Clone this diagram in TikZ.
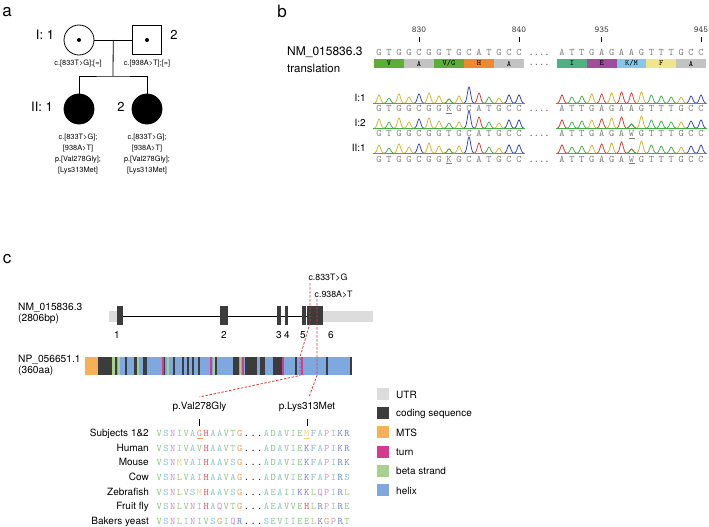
\documentclass[tikz,border=0pt]{standalone}
\usepackage{fontspec}
\setmainfont{TeX Gyre Heros}
\usepackage{xcolor}
\definecolor{figutr}{HTML}{DCDCDC}
\definecolor{figcds}{HTML}{3C3C3C}
\definecolor{figmts}{HTML}{F6B158}
\definecolor{figturn}{HTML}{D93A8F}
\definecolor{figbeta}{HTML}{A9D18E}
\definecolor{fighelix}{HTML}{7FA8DF}
\definecolor{figmut}{HTML}{E23A32}
\definecolor{figseq}{HTML}{7A7A7A}
% trace colours
\definecolor{baseA}{HTML}{D63A33}
\definecolor{baseC}{HTML}{3046B5}
\definecolor{baseG}{HTML}{CDB52C}
\definecolor{baseT}{HTML}{3DAF45}
% translation colours
\definecolor{trV}{HTML}{5DAE37}
\definecolor{trA}{HTML}{C3C3C3}
\definecolor{trH}{HTML}{F0892E}
\definecolor{trI}{HTML}{4DB383}
\definecolor{trE}{HTML}{A24C9E}
\definecolor{trK}{HTML}{82C9EC}
\definecolor{trF}{HTML}{F1E58C}
% residue colours
\definecolor{aaA}{HTML}{8CC4C4}
\definecolor{aaV}{HTML}{8CC47E}
\definecolor{aaS}{HTML}{7DC4DE}
\definecolor{aaN}{HTML}{C58BC9}
\definecolor{aaI}{HTML}{8FCBA0}
\definecolor{aaT}{HTML}{96C77E}
\definecolor{aaG}{HTML}{EE9750}
\definecolor{aaH}{HTML}{DD4F63}
\definecolor{aaD}{HTML}{82BF7C}
\definecolor{aaE}{HTML}{8BC38B}
\definecolor{aaK}{HTML}{7573C4}
\definecolor{aaF}{HTML}{87A9E0}
\definecolor{aaP}{HTML}{D694BF}
\definecolor{aaR}{HTML}{6885D4}
\definecolor{aaM}{HTML}{F1D36A}
\definecolor{aaL}{HTML}{A3C87A}
\definecolor{aaQ}{HTML}{CF8FD0}
\usepackage{tikz}
\usetikzlibrary{positioning,calc}
\tikzset{
  figpanel/.style={inner sep=0pt,font=\fontsize{17}{17}\selectfont},
  pedfemale/.style={draw,circle,line width=0.8pt,minimum size=30pt,inner sep=0pt},
  pedmale/.style={draw,line width=0.8pt,minimum size=29pt,inner sep=0pt},
  pedaffected/.style={pedfemale,fill=black},
  pedline/.style={line width=0.8pt},
  pedid/.style={inner sep=0pt,font=\fontsize{13}{13}\selectfont},
  pedgeno/.style={inner sep=0pt,align=center,font=\fontsize{7.4}{11}\selectfont},
  seqname/.style={inner sep=0pt,anchor=west,align=left},
  seqchar/.style={inner sep=0pt,anchor=base,text=figseq,font=\ttfamily\fontsize{10}{10}\selectfont},
  seqpos/.style={inner sep=0pt,font=\ttfamily\fontsize{9}{9}\selectfont,text=black!80},
  trbox/.style={minimum width=30pt,minimum height=9pt,inner sep=0pt,font=\ttfamily\fontsize{8}{8}\selectfont},
  tracepeak/.style={line width=0.75pt},
  tracename/.style={inner sep=0pt,anchor=east,font=\fontsize{10}{10}\selectfont},
  exonnum/.style={inner sep=0pt,font=\fontsize{10}{10}\selectfont},
  mutlabel/.style={inner sep=0pt,font=\fontsize{8.8}{9}\selectfont},
  mutline/.style={figmut,line width=0.8pt,dash pattern=on 2.5pt off 1.5pt},
  legtext/.style={inner sep=0pt,anchor=west,font=\fontsize{10}{10}\selectfont},
  alnname/.style={inner sep=0pt,anchor=base east,font=\fontsize{10}{10}\selectfont},
  alnres/.style={inner sep=0pt,anchor=base,font=\ttfamily\fontsize{10}{10}\selectfont},
}
\newcommand{\peak}[4]{% centre x, baseline, height, colour
  \draw[tracepeak,#4] plot[variable=\t,domain=-4.6:4.6,samples=15,smooth]
    ({#1+\t},{#2-#3*exp(-\t*\t/5)});}
\newcommand{\chrom}[4]{% first x, pitch, baseline, base/height list
  \draw[tracepeak,baseT] ({#1-6},#3) -- ({#1+#2*14+6},#3);
  \foreach \nb/\nh [count=\n from 0] in {#4}
    \peak{#1+#2*\n}{#3}{\nh}{base\nb};}
\newcommand{\seqrow}[4]{% first x, pitch, baseline, letters
  \foreach \res [count=\n from 0] in {#4}
    \node[seqchar] at ({#1+#2*\n},#3) {\res};
  \node[seqchar] at (539,#3) {....};}
\newcommand{\alnrow}[4]{% baseline, species, residues before and after the gap
  \node[alnname] at (149,#1) {#2};
  \foreach \res [count=\n from 0] in {#3}
    \node[alnres,text=aa\res] at ({159.35+6.7*\n},#1) {\res};
  \foreach \n in {13,14,15}
    \node[alnres] at ({159.35+6.7*\n},#1) {.};
  \foreach \res [count=\n from 16] in {#4}
    \node[alnres,text=aa\res] at ({159.35+6.7*\n},#1) {\res};}
\newcommand{\vg}{V/G}
\newcommand{\km}{K/M}

\begin{document}
\begin{tikzpicture}[x=1pt,y=-1pt]
\useasboundingbox (0,0) rectangle (709,527);
% panel a: pedigree
\node[figpanel] (pa) at (7,12) {a};
\node[pedfemale] (i1) at (79,40) {};
\node[pedmale] (i2) at (147,40) {};
\fill (i1.center) circle (2pt);
\fill (i2.center) circle (2pt);
\node[pedid] (i1id) at (45,35) {I: 1};
\node[pedid] (i2id) at (174,35) {2};
\node[pedaffected] (ii1) at (79,109) {};
\node[pedaffected] (ii2) at (147,109) {};
\node[pedid] (ii1id) at (42,107) {II: 1};
\node[pedid] (ii2id) at (121,107) {2};
\coordinate (mate) at ($(i1.east)!0.5!(i2.west)$);
\coordinate (sibs) at (113,76);
\draw[pedline] (i1.east) -- (i2.west);
\draw[pedline] (mate) -- (sibs);
\draw[pedline] (ii1.north) |- (sibs) -| (ii2.north);
\node[pedgeno] (g1) at (78,64) {c.[833T>G];[=]};
\node[pedgeno] (g2) at (147,64) {c.[938A>T];[=]};
\node[pedgeno] (g3) at (78,154) {c.[833T>G];\\ {[938A>T]}\\ p.[Val278Gly];\\ {[Lys313Met]}};
\node[pedgeno] (g4) at (147,154) {c.[833T>G];\\ {[938A>T]}\\ p.[Val278Gly];\\ {[Lys313Met]}};

% panel b: sequencing
\node[figpanel] (pb) at (282,11) {b};
\foreach \x/\num in {419/830,519/840,601.7/935,701/945}{
  \node[seqpos] at (\x,30) {\num};
  \draw[line width=0.8pt] (\x,37.5) -- (\x,42.5);
}
\node[seqname,font=\fontsize{12}{12}\selectfont] (refname) at (287,52) {NM\_015836.3};
\node[seqname,font=\fontsize{11.5}{12}\selectfont] (trname) at (287,68.5) {translation};
\seqrow{379}{10}{55.5}{G,T,G,G,C,G,G,T,G,C,A,T,G,C,C}
\seqrow{562}{9.93}{55.5}{A,T,T,G,A,G,A,A,G,T,T,T,G,C,C}
\foreach \lbl/\col [count=\n from 0] in {V/trV,A/trA,\vg/trV,H/trH,A/trA}
  \node[trbox,fill=\col] (tra\n) at ({389+30*\n},63.5) {\lbl};
\foreach \lbl/\col [count=\n from 0] in {I/trI,E/trE,\km/trK,F/trF,A/trA}
  \node[trbox,fill=\col] (trb\n) at ({571.9+29.8*\n},63.5) {\lbl};
\node[seqchar,text=black!70] (trgap) at (539,66) {....};

\node[tracename] (t1) at (366,98) {I:1};
\chrom{379}{10}{103}{G/8,T/5,G/9,G/6,C/9,G/10,G/7,G/4,G/7,C/16,A/10,T/6,G/5,C/8,C/8}
\peak{449}{103}{4}{baseT}
\chrom{562}{9.93}{103}{A/8,T/6,T/7,G/9,A/9,G/10,A/11,A/10,G/11,T/8,T/7,T/6,G/6,C/7,C/8}
\seqrow{379}{10}{111.5}{G,T,G,G,C,G,G,K,G,C,A,T,G,C,C}
\seqrow{562}{9.93}{111.5}{A,T,T,G,A,G,A,A,G,T,T,T,G,C,C}
\draw[figseq] (446,113) -- (452,113);

\node[tracename] (t2) at (366,123) {I:2};
\chrom{379}{10}{128}{G/9,T/6,G/10,G/6,C/9,G/10,G/7,T/5,G/6,C/17,A/11,T/6,G/5,C/8,C/8}
\chrom{562}{9.93}{128}{A/8,T/6,T/7,G/8,A/9,G/10,A/11,A/4,G/12,T/8,T/7,T/6,G/6,C/7,C/8}
\peak{631.5}{128}{4}{baseT}
\seqrow{379}{10}{136.5}{G,T,G,G,C,G,G,T,G,C,A,T,G,C,C}
\seqrow{562}{9.93}{136.5}{A,T,T,G,A,G,A,W,G,T,T,T,G,C,C}
\draw[figseq] (628.5,138) -- (634.5,138);

\node[tracename] (t3) at (366,148) {II:1};
\chrom{379}{10}{153}{G/8,T/5,G/9,G/6,C/9,G/10,G/7,G/4,G/7,C/16,A/10,T/6,G/5,C/8,C/8}
\peak{449}{153}{4}{baseT}
\chrom{562}{9.93}{153}{A/8,T/6,T/7,G/8,A/9,G/10,A/11,A/4,G/12,T/8,T/7,T/6,G/6,C/7,C/8}
\peak{631.5}{153}{4}{baseT}
\seqrow{379}{10}{162}{G,T,G,G,C,G,G,K,G,C,A,T,G,C,C}
\seqrow{562}{9.93}{162}{A,T,T,G,A,G,A,W,G,T,T,T,G,C,C}
\draw[figseq] (446,163.5) -- (452,163.5);
\draw[figseq] (628.5,163.5) -- (634.5,163.5);

% panel c: gene, protein and conservation
\node[figpanel] (pc) at (7,259) {c};
\node[seqname,font=\fontsize{10.2}{11}\selectfont] (nmname) at (18,313.5) {NM\_015836.3\\(2806bp)};
\fill[figutr] (109,311) rectangle (117,322);
\fill[figutr] (323,311) rectangle (373,322);
\draw[line width=1.2pt] (117,316.5) -- (307,316.5);
\foreach \xa/\xb in {117/123,220/228,277/281,285/288,302/306,307/323}
  \fill[figcds] (\xa,306) rectangle (\xb,325);
\foreach \x/\num in {117/1,224/2,279/3,287/4,303/5,331/6}
  \node[exonnum] (ex\num) at (\x,335) {\num};

\node[seqname,font=\fontsize{10.2}{11}\selectfont] (npname) at (18,365.5) {NP\_056651.1\\(360aa)};
\fill[figmts] (85,357) rectangle (98,375);
\fill[fighelix] (98,357) rectangle (352,375);
\foreach \xa/\xb in {98/112,115/117,125/126.5,134/137,143/147,163.5/165,173/174.5,182/183.5,187/188.5,192/193.5,198/200,215/217,233/239,245/257,260/265,273/282,295/297,326/328,350/351.5}
  \fill[figcds] (\xa,357) rectangle (\xb,375);
\foreach \xa/\xb in {112/114.5,117.5/119.5,137/139,167/168.5,213/214.5,239.5/241}
  \fill[figbeta] (\xa,357) rectangle (\xb,375);
\foreach \xa/\xb in {162/163.5,210/212,242/244,282/283.5,300.5/302.5}
  \fill[figturn] (\xa,357) rectangle (\xb,375);

% variant positions
\node[mutlabel] (mut833) at (328,277.5) {c.833T>G};
\node[mutlabel,anchor=west] (mut938) at (314.5,294.5) {c.938A>T};
\node[alnname,anchor=center] (lblval) at (199.5,407) {p.Val278Gly};
\node[alnname,anchor=center] (lbllys) at (307,407) {p.Lys313Met};
\coordinate (m1a) at (310,283);
\coordinate (m1b) at (310,323);
\coordinate (m1c) at (300,357);
\coordinate (m1d) at (300,375.5);
\coordinate (m2a) at (317,299);
\coordinate (m2b) at (317,375.5);
\draw[mutline] (m1a) -- (m1b) -- (m1c) -- (m1d) -- ($(lblval.north)+(0,-5)$);
\draw[mutline] (m2a) -- (m2b) -- ($(lbllys.north)+(2,-5)$);
\draw[line width=0.8pt] (199.5,419) -- (199.5,426);
\draw[line width=0.8pt] (307,419) -- (307,426);

% legend
\foreach \col/\txt [count=\n from 0] in {figutr/UTR,figcds/coding sequence,figmts/MTS,figturn/turn,figbeta/beta strand,fighelix/helix}{
  \fill[\col] (377,{388+19.2*\n}) rectangle ++(12,12);
  \node[legtext] (leg\n) at (396,{394.5+19.2*\n}) {\txt};
}

% alignment
\alnrow{436.5}{Subjects 1\&2}{V,S,N,I,V,A,G,H,A,A,V,T,G}{A,D,A,V,I,E,M,F,A,P,I,K,R}
\draw[aaG,line width=0.7pt] (196.5,438.3) -- (202.5,438.3);
\draw[aaM,line width=0.7pt] (304,438.3) -- (310,438.3);
\alnrow{451.2}{Human}{V,S,N,I,V,A,V,H,A,A,V,T,G}{A,D,A,V,I,E,K,F,A,P,I,K,R}
\alnrow{465.8}{Mouse}{V,S,N,M,V,A,I,H,A,A,V,S,G}{A,D,A,V,I,E,K,F,A,P,I,R,K}
\alnrow{480.5}{Cow}{V,S,N,L,V,A,I,H,A,A,V,A,G}{A,D,A,V,I,E,K,F,A,P,I,R,S}
\alnrow{495.1}{Zebrafish}{V,S,N,L,V,S,M,H,A,A,V,S,G}{A,E,A,I,I,K,K,L,Q,P,I,R,L}
\alnrow{509.8}{Fruit fly}{V,S,N,L,V,N,I,H,A,Q,V,T,G}{A,E,A,V,V,E,H,L,R,P,I,R,E}
\alnrow{524.4}{Bakers yeast}{V,S,N,L,I,N,I,V,S,G,I,Q,R}{S,E,V,I,I,E,E,L,K,G,P,R,T}
\end{tikzpicture}
\end{document}
